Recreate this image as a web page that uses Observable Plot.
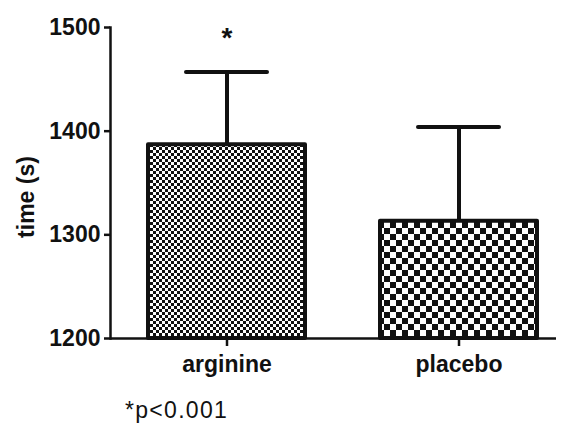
<!DOCTYPE html>
<html>
<head>
<meta charset="utf-8">
<script src="https://cdn.jsdelivr.net/npm/d3@7"></script>
<script src="https://cdn.jsdelivr.net/npm/@observablehq/plot@0.6"></script>
<style>
  html, body { margin: 0; padding: 0; background: #fff; }
  #chart svg { display: block; }
  #caption { font-family: "Liberation Sans", Arial, sans-serif; font-size: 23px; letter-spacing: 1.3px; line-height: 30px; height: 28px; padding-left: 125px; color: #111; }
</style>
</head>
<body>
<div id="chart"></div>
<div id="caption">*p&lt;0.001</div>
<script>
const categories = ["arginine", "placebo"];
const means = [1387, 1313];
const errors = [70, 91];
const yDomain = [1200, 1500];
const yTicks = [1200, 1300, 1400, 1500];
const yLabel = "time (s)";
const significance = ["*", ""];

const data = categories.map((c, i) => ({
  group: c,
  mean: means[i],
  upper: means[i] + errors[i],
  base: yDomain[0],
  sig: significance[i]
}));

const font = "'Liberation Sans', Arial, sans-serif";

const svg = Plot.plot({
  width: 564,
  height: 395,
  marginLeft: 110,
  marginRight: 8,
  marginTop: 27,
  marginBottom: 57,
  style: { fontFamily: font, background: "#fff", color: "#111" },
  x: { domain: categories, paddingInner: 0.323, paddingOuter: 0.1226, align: 0.667, label: null },
  y: { domain: yDomain, label: null },
  color: { type: "ordinal", domain: categories, range: ["url(#fineCheck)", "url(#coarseCheck)"] },
  marks: [
    Plot.ruleX(data, { x: "group", y1: "mean", y2: "upper", stroke: "#111", strokeWidth: 4 }),
    Plot.tickY(data, { x: "group", y: "upper", stroke: "#111", strokeWidth: 4, insetLeft: 38, insetRight: 38, strokeLinecap: "round" }),
    Plot.barY(data, { x: "group", y1: "base", y2: "mean", fill: "group", stroke: "#111", strokeWidth: 4, strokeLinejoin: "round" }),
    Plot.text(data, { x: "group", text: "sig", frameAnchor: "top", dy: 0, fontSize: 28, fontWeight: "bold", fill: "#111", lineAnchor: "top" }),
    Plot.frame({ anchor: "left", stroke: "#111", strokeWidth: 2.5 }),
    Plot.ruleY([yDomain[0]], { stroke: "#111", strokeWidth: 2.5 }),
    Plot.axisY({ ticks: yTicks, tickFormat: d3.format("d"), tickSize: 6, tickPadding: 4, fontSize: 23, fontWeight: "bold", strokeWidth: 2.5, label: null }),
    Plot.axisX({ tickSize: 8, tickPadding: 9, fontSize: 23, fontWeight: "bold", strokeWidth: 2.5, label: null }),
    Plot.text([yLabel], { text: d => d, frameAnchor: "left", textAnchor: "middle", rotate: -90, dx: -84, dy: 14, fontSize: 23, fontWeight: "bold", fill: "#111" })
  ]
});

const defs = d3.select(svg).insert("defs", ":first-child");
function checker(id, cell) {
  const p = defs.append("pattern")
    .attr("id", id)
    .attr("patternUnits", "userSpaceOnUse")
    .attr("width", cell * 2)
    .attr("height", cell * 2);
  p.append("rect").attr("width", cell * 2).attr("height", cell * 2).attr("fill", "#fff");
  p.append("rect").attr("x", 0).attr("y", 0).attr("width", cell).attr("height", cell).attr("fill", "#111");
  p.append("rect").attr("x", cell).attr("y", cell).attr("width", cell).attr("height", cell).attr("fill", "#111");
}
checker("fineCheck", 3);
checker("coarseCheck", 6);

document.getElementById("chart").appendChild(svg);
</script>
</body>
</html>
